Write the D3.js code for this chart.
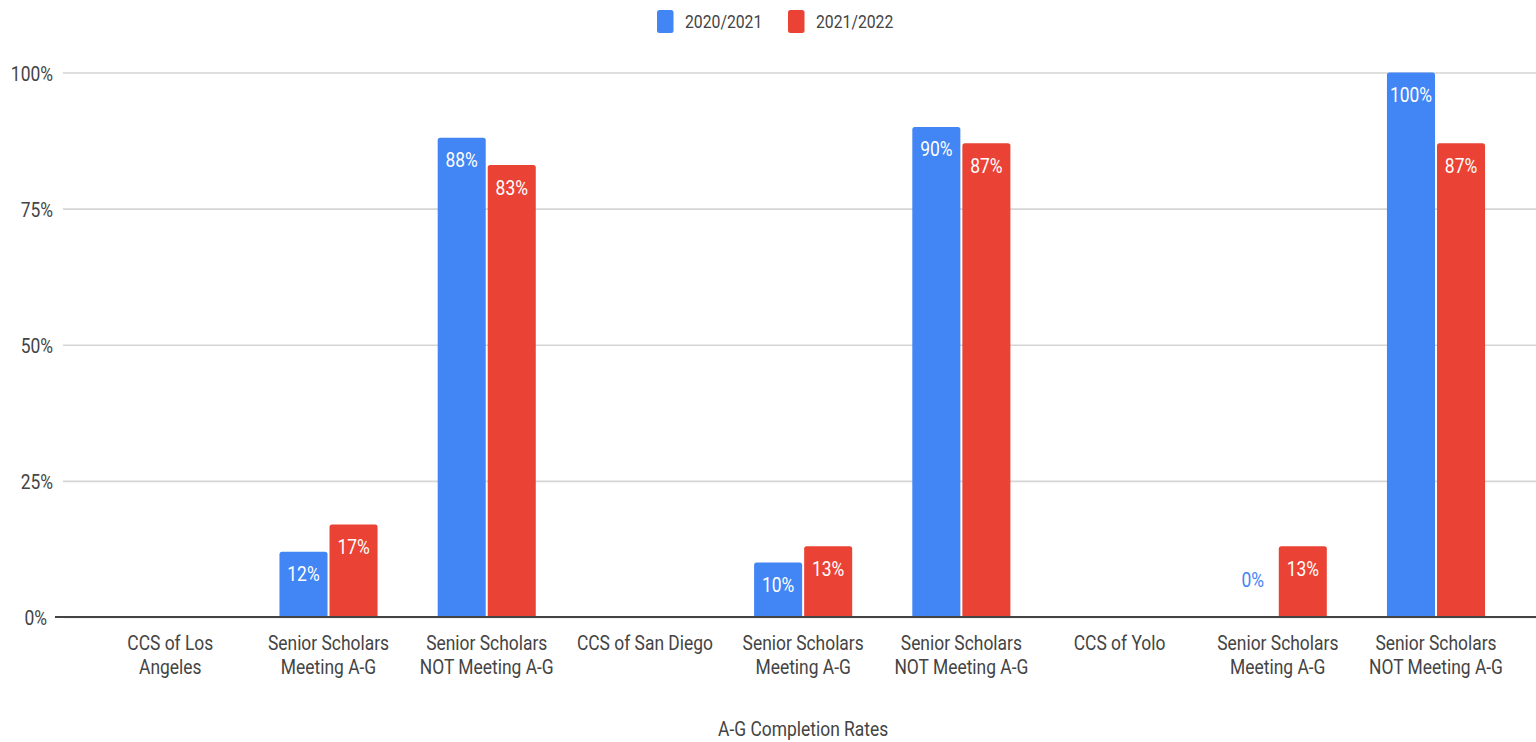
<!DOCTYPE html>
<html>
<head>
<meta charset="utf-8">
<script src="https://cdn.jsdelivr.net/npm/d3@7"></script>
<style>
  html, body { margin: 0; padding: 0; background: #fff; }
  svg { display: block; }
  text { font-family: Roboto, "Noto Sans", sans-serif; }
</style>
</head>
<body>
<svg id="chart" width="1536" height="742"></svg>
<script>
// ---- data ----
const categories = [
  "CCS of Los Angeles",
  "Senior Scholars Meeting A-G",
  "Senior Scholars NOT Meeting A-G",
  "CCS of San Diego",
  "Senior Scholars Meeting A-G ",
  "Senior Scholars NOT Meeting A-G ",
  "CCS of Yolo",
  "Senior Scholars  Meeting A-G",
  "Senior Scholars  NOT Meeting A-G"
];
const categoryLines = [
  ["CCS of Los", "Angeles"],
  ["Senior Scholars", "Meeting A-G"],
  ["Senior Scholars", "NOT Meeting A-G"],
  ["CCS of San Diego"],
  ["Senior Scholars", "Meeting A-G"],
  ["Senior Scholars", "NOT Meeting A-G"],
  ["CCS of Yolo"],
  ["Senior Scholars", "Meeting A-G"],
  ["Senior Scholars", "NOT Meeting A-G"]
];
const seriesNames = ["2020/2021", "2021/2022"];
const values2020_2021 = [null, 12, 88, null, 10, 90, null, 0, 100];
const values2021_2022 = [null, 17, 83, null, 13, 87, null, 13, 87];
const seriesColors = ["#4285F4", "#EA4335"];
const yTicks = [0, 25, 50, 75, 100];
const xTitle = "A-G Completion Rates";

// ---- setup ----
const SX = 0.83;
const svg = d3.select("#chart");
const W = 1536;

const y = d3.scaleLinear().domain([0, 100]).range([617, 72.5]);
const x0 = d3.scaleBand().domain(categories).range([91.2, 1515.1])
  .paddingInner(0.38).paddingOuter(0.19);
const x1 = d3.scaleBand().domain(seriesNames).range([0, x0.bandwidth()]).paddingInner(0.04);

const series = [values2020_2021, values2021_2022];

// gridlines + y tick labels via axis
const yAxis = d3.axisLeft(y).tickValues(yTicks).tickSize(-(W - 63))
  .tickFormat(d => d + "%");
const gy = svg.append("g").attr("transform", "translate(63,0)").call(yAxis);
gy.select(".domain").remove();
gy.selectAll(".tick line").attr("stroke", "#d5d5d5").attr("stroke-width", 1.6);
gy.selectAll(".tick text")
  .attr("x", 0).attr("dy", null)
  .attr("transform", d => `translate(${d === 0 ? -16 : -10},7.5) scale(${SX},1)`)
  .attr("text-anchor", "end")
  .attr("fill", "#444")
  .style("font-size", "21px")
  .style("font-family", "Roboto, sans-serif");

// bars
const bars = svg.append("g");
series.forEach((vals, si) => {
  const data = categories.map((c, i) => ({ c, v: vals[i] })).filter(d => d.v !== null);
  bars.selectAll(null).data(data).enter().append("path")
    .attr("fill", seriesColors[si])
    .attr("d", d => {
      const bx = x0(d.c) + x1(seriesNames[si]);
      const bw = x1.bandwidth();
      const top = y(d.v), bot = y(0);
      if (bot - top < 0.5) return "";
      const r = Math.min(2.5, bot - top);
      return `M${bx},${bot}V${top + r}Q${bx},${top} ${bx + r},${top}H${bx + bw - r}Q${bx + bw},${top} ${bx + bw},${top + r}V${bot}Z`;
    });
  bars.selectAll(null).data(data).enter().append("text")
    .attr("transform", d => {
      const cx = x0(d.c) + x1(seriesNames[si]) + x1.bandwidth() / 2;
      const ty = d.v === 0 ? y(0) - 30 : y(d.v) + 29.5;
      return `translate(${cx},${ty}) scale(${SX},1)`;
    })
    .attr("text-anchor", "middle")
    .attr("fill", d => d.v === 0 ? seriesColors[si] : "#fff")
    .style("font-size", "21px")
    .text(d => d.v + "%");
});

// baseline
svg.append("line")
  .attr("x1", 55).attr("x2", W)
  .attr("y1", y(0)).attr("y2", y(0))
  .attr("stroke", "#444").attr("stroke-width", 2.2);

// category labels
const gx = svg.append("g");
categories.forEach((c, i) => {
  const cx = x0(c) + x0.bandwidth() / 2;
  categoryLines[i].forEach((ln, li) => {
    gx.append("text")
      .attr("transform", `translate(${cx},${650 + li * 24}) scale(${SX},1)`)
      .attr("text-anchor", "middle")
      .attr("fill", "#444")
      .style("font-size", "21px")
      .text(ln);
  });
});

// x title
svg.append("text")
  .attr("transform", `translate(${(x0.range()[0] + x0.range()[1]) / 2},736) scale(${SX},1)`)
  .attr("text-anchor", "middle")
  .attr("fill", "#444")
  .style("font-size", "21px")
  .text(xTitle);

// legend
const legendX = [657, 788];
const lg = svg.append("g");
seriesNames.forEach((s, i) => {
  lg.append("rect")
    .attr("x", legendX[i]).attr("y", 10).attr("width", 16.5).attr("height", 23)
    .attr("rx", 2.5).attr("fill", seriesColors[i]);
  lg.append("text")
    .attr("transform", `translate(${legendX[i] + 28},27.5) scale(${SX},1)`)
    .attr("fill", "#444")
    .style("font-size", "19px")
    .text(s);
});
</script>
</body>
</html>
